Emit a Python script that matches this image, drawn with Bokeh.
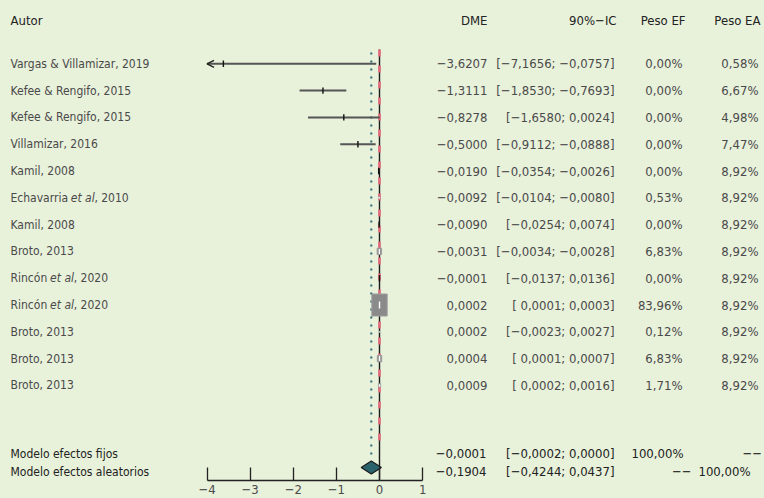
import numpy as np
from bokeh.plotting import figure
from bokeh.models import Range1d, FixedTicker, Arrow, OpenHead, ColumnDataSource
from bokeh.core.properties import value
from bokeh.embed import file_html
from bokeh.resources import INLINE

# ---------------- data ----------------
authors = ["Vargas & Villamizar, 2019", "Kefee & Rengifo, 2015", "Kefee & Rengifo, 2015",
           "Villamizar, 2016", "Kamil, 2008", "Echavarria et al, 2010", "Kamil, 2008",
           "Broto, 2013", "Rincón et al, 2020", "Rincón et al, 2020", "Broto, 2013",
           "Broto, 2013", "Broto, 2013"]
dme = [-3.6207, -1.3111, -0.8278, -0.5000, -0.0190, -0.0092, -0.0090, -0.0031,
       -0.0001, 0.0002, 0.0002, 0.0004, 0.0009]
ci_low = [-7.1656, -1.8530, -1.6580, -0.9112, -0.0354, -0.0104, -0.0254, -0.0034,
          -0.0137, 0.0001, -0.0023, 0.0001, 0.0002]
ci_high = [-0.0757, -0.7693, 0.0024, -0.0888, -0.0026, -0.0080, 0.0074, -0.0028,
           0.0136, 0.0003, 0.0027, 0.0007, 0.0016]
peso_ef = [0.00, 0.00, 0.00, 0.00, 0.00, 0.53, 0.00, 6.83, 0.00, 83.96, 0.12, 6.83, 1.71]
peso_ea = [0.58, 6.67, 4.98, 7.47, 8.92, 8.92, 8.92, 8.92, 8.92, 8.92, 8.92, 8.92, 8.92]

model_labels = ["Modelo efectos fijos", "Modelo efectos aleatorios"]
model_est = [-0.0001, -0.1904]
model_low = [-0.0002, -0.4244]
model_high = [0.0000, 0.0437]

headers = ["Autor", "DME", "90%\u2212IC", "Peso EF", "Peso EA"]
x_ticks = [-4, -3, -2, -1, 0, 1]

# ---------------- layout constants ----------------
BG = "#e8f1da"
FONT_NAME = "DejaVu Sans Condensed"
FONT = value(FONT_NAME)
TXT = "#4a4a4a"
DARK = "#222222"
FS = "13px"       # numbers / headers
FS_LAB = "12px"   # study labels
X0, SCALE = 379.0, 43.12
ROW0, ROWH = 63.3, 26.8
Y_FIX, Y_RAN, Y_DIA = 453, 471, 467
# pixel offsets of the italic "et al" part and the rest of the label
ETAL_OFF = {"Echavarria": (60.3, 83.9), "Rincón": (39.6, 63.2)}


def px(xp):
    return (xp - X0) / SCALE


def num(v):
    s = f"{abs(v):.4f}".replace(".", ",")
    return ("\u2212" + s) if v < 0 else s


def ci_txt(a, b):
    left = num(a) if a < 0 else " " + num(a)
    return f"[{left}; {num(b)}]"


def pct(v):
    return f"{v:.2f}".replace(".", ",") + "%"


n = len(authors)
ys = ROW0 + ROWH * np.arange(n)
dme_a = np.array(dme)
lo_a = np.array(ci_low)
hi_a = np.array(ci_high)
wef = np.array(peso_ef)

p = figure(frame_width=764, frame_height=480, output_backend="svg", toolbar_location=None,
           x_range=Range1d(px(0), px(764)), y_range=Range1d(480, 0),
           y_axis_location=None, min_border=0,
           background_fill_color=BG, border_fill_color=BG, outline_line_color=None)
p.grid.visible = False

ax = p.xaxis[0]
ax.ticker = FixedTicker(ticks=x_ticks)
ax.bounds = (x_ticks[0], x_ticks[-1])
ax.major_label_overrides = {t: (("\u2212" + str(abs(t))) if t < 0 else str(t)) for t in x_ticks}
ax.major_tick_in = 13
ax.major_tick_out = 0
ax.minor_tick_line_color = None
ax.axis_line_color = "#222222"
ax.major_tick_line_color = "#222222"
ax.axis_line_width = 1.3
ax.major_tick_line_width = 1.3
ax.major_label_standoff = 4
ax.major_label_text_font = FONT_NAME
ax.major_label_text_font_size = FS
ax.major_label_text_color = TXT

# reference lines
p.segment(x0=[0], y0=[49], x1=[0], y1=[480], line_color="#1a1a1a", line_width=1.4)
p.segment(x0=[model_est[1]], y0=[52], x1=[model_est[1]], y1=[460],
          line_color="#2b6a72", line_width=2, line_dash="2 6")
p.segment(x0=[model_est[0]], y0=[49], x1=[model_est[0]], y1=[445],
          line_color="#e36a7b", line_width=2.6, line_dash="7 9")

# confidence intervals (clipped to axis)
xmin, xmax = x_ticks[0], x_ticks[-1]
lo_c = np.maximum(lo_a, xmin)
hi_c = np.minimum(hi_a, xmax)
p.segment(x0=lo_c, y0=ys, x1=hi_c, y1=ys, line_color="#555555", line_width=2)

cut = lo_a < xmin
arr_src = ColumnDataSource(dict(xs=hi_c[cut], xe=np.full(cut.sum(), xmin), y=ys[cut]))
p.add_layout(Arrow(x_start="xs", y_start="y", x_end="xe", y_end="y", source=arr_src,
                   line_alpha=0, end=OpenHead(size=7, line_width=1.4, line_color="#222222")))

# squares (fixed-effect weights)
has_w = wef > 0
scale_w = np.sqrt(wef / wef.max())
sq_w = 15.3 * scale_w
sq_h = 22.0 * scale_w
p.rect(x=dme_a[has_w], y=ys[has_w], width=sq_w[has_w], height=sq_h[has_w],
       width_units="screen", height_units="screen",
       fill_color="#8a8a8a", line_color="#9c9c9c", line_width=1)

# estimate ticks
tick_half = np.where(has_w, np.minimum(3.5, sq_h * 0.4), 3.2)
tick_col = np.where(has_w, "white", "#111111")
p.segment(x0=dme_a, y0=ys - tick_half, x1=dme_a, y1=ys + tick_half,
          line_color=list(tick_col), line_width=1.4)

# diamonds
p.patch(x=[model_low[0], model_est[0], model_high[0], model_est[0]],
        y=[Y_FIX, Y_FIX - 5, Y_FIX, Y_FIX + 5], fill_color="#2a636c", line_color="#1a1a1a")
p.patch(x=[model_low[1], model_est[1], model_high[1], model_est[1]],
        y=[Y_DIA, Y_DIA - 6.5, Y_DIA, Y_DIA + 6.5], fill_color="#2a636c",
        line_color="#1a1a1a", line_width=1.2)


def txt(xpx, y, texts, align="left", color=TXT, style="normal", size=FS):
    k = len(texts)
    p.text(x=[px(xpx)] * k, y=list(y), text=list(texts), text_align=align,
           text_baseline="middle", text_font=FONT, text_font_size=size,
           text_color=color, text_font_style=style)


# header
txt(10, [20], [headers[0]], color=DARK)
txt(487, [20], [headers[1]], align="right", color=DARK)
txt(616, [20], [headers[2]], align="right", color=DARK)
txt(685, [20], [headers[3]], align="right", color=DARK)
txt(760, [20], [headers[4]], align="right", color=DARK)

# author labels (italic "et al")
plain_i = [i for i, a in enumerate(authors) if " et al" not in a]
txt(10, ys[plain_i], [authors[i] for i in plain_i], size=FS_LAB)
for i, a in enumerate(authors):
    if " et al" in a:
        pre, post = a.split(" et al")
        off1, off2 = ETAL_OFF.get(pre, (40, 64))
        txt(10, [ys[i]], [pre], size=FS_LAB)
        txt(10 + off1, [ys[i]], ["et al"], style="italic", size=FS_LAB)
        txt(10 + off2, [ys[i]], [post], size=FS_LAB)

txt(487, ys, [num(v) for v in dme], align="right")
txt(614, ys, [ci_txt(a, b) for a, b in zip(ci_low, ci_high)], align="right")
txt(682, ys, [pct(v) for v in peso_ef], align="right")
txt(758, ys, [pct(v) for v in peso_ea], align="right")

# model rows
my = [Y_FIX, Y_RAN]
txt(10, my, model_labels, color=DARK, size=FS_LAB)
txt(486, my, [num(v) for v in model_est], align="right", color=DARK)
txt(614, my, [ci_txt(a, b) for a, b in zip(model_low, model_high)], align="right", color=DARK)
txt(683, [Y_FIX], [pct(100.0)], align="right", color=DARK)
txt(742, [Y_FIX], ["\u2212\u2212"], align="left", color=DARK)
txt(691, [Y_RAN], ["\u2212\u2212"], align="right", color=DARK)
txt(750, [Y_RAN], [pct(100.0)], align="right", color=DARK)

html = file_html(p, INLINE, title="Forest plot")
html = html.replace("<head>", "<head>\n<style>html,body{margin:0;padding:0;background:%s;overflow:hidden}</style>" % BG, 1)
open("out.html", "w").write(html)
